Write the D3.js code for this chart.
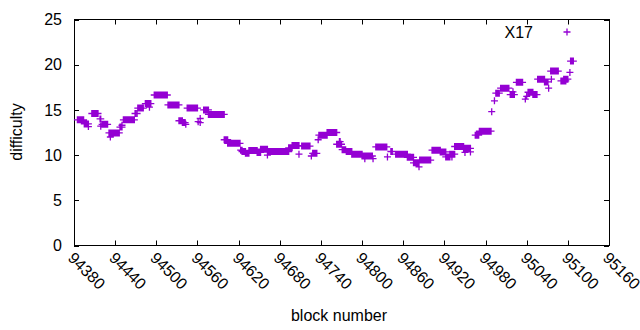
<!DOCTYPE html>
<html><head><meta charset="utf-8">
<script src="https://cdn.jsdelivr.net/npm/d3@7"></script>
<style>
body{margin:0;background:#fff;}
text{font-family:"Liberation Sans",Arial,sans-serif;font-size:16px;fill:#000;}
</style></head>
<body>
<svg id="c" width="640" height="330"></svg>
<script>
// Difficulty runs: blocks [runStart..runEnd] share difficulty runDiff
const runStart = [94385,94395,94401,94406,94418,94419,94421,94431,94433,94447,94450,94452,94469,94472,94473,94484,94490,94497,94517,94533,94538,94543,94545,94561,94564,94564,94569,94576,94599,94604,94623,94625,94630,94635,94647,94652,94662,94662,94672,94693,94698,94708,94712,94726,94728,94736,94737,94749,94763,94767,94771,94777,94785,94800,94804,94816,94820,94837,94842,94849,94866,94875,94883,94884,94902,94914,94922,94928,94931,94935,94948,94950,94958,94965,94971,94989,94993,94995,95002,95016,95020,95025,95038,95040,95042,95049,95056,95066,95072,95075,95076,95090,95094,95103,95104];
const runEnd   = [94394,94401,94401,94415,94419,94419,94429,94446,94433,94450,94450,94468,94470,94472,94481,94492,94490,94516,94533,94538,94542,94543,94560,94561,94564,94564,94576,94599,94604,94622,94625,94630,94635,94647,94652,94662,94672,94662,94693,94698,94708,94708,94724,94726,94734,94736,94749,94763,94770,94768,94776,94785,94800,94815,94804,94816,94836,94837,94844,94866,94875,94883,94883,94900,94914,94922,94928,94935,94931,94948,94958,94950,94958,94970,94988,94989,94993,95000,95014,95022,95020,95034,95038,95040,95049,95055,95066,95071,95072,95086,95076,95097,95100,95103,95108];
const runDiff  = [13.9,13.45,13.15,14.6,14.0,13.2,13.4,12.45,12.0,13.1,13.3,13.9,14.6,14.6,15.2,15.7,15.3,16.65,15.55,13.8,13.6,13.4,15.2,13.7,14.05,13.6,15.0,14.5,11.7,11.3,10.55,10.4,10.2,10.5,10.3,10.65,10.4,10.0,10.4,10.8,11.05,10.1,11.0,9.9,10.2,11.7,12.2,12.5,11.2,11.5,10.6,10.4,10.1,9.9,9.6,9.6,10.9,9.8,10.4,10.1,9.75,9.15,8.7,9.45,10.55,10.35,9.8,10.1,9.8,10.95,10.75,10.3,10.35,12.2,12.65,14.8,16.0,16.85,17.4,16.7,17.0,18.05,16.2,16.5,16.95,16.7,18.4,18.1,17.4,19.3,18.4,18.2,18.4,19.15,20.4];

const xTicks = [94380,94440,94500,94560,94620,94680,94740,94800,94860,94920,94980,95040,95100,95160];
const yTicks = [0,5,10,15,20,25];
const seriesName = "X17";

const points = [];
runStart.forEach((s,i)=>{ for(let b=s;b<=runEnd[i];b++) points.push([b,runDiff[i]]); });

const svg = d3.select("#c");
const L=74,R=609,T=19.5,B=245.5;
const x = d3.scaleLinear().domain([94380,95160]).range([L,R]);
const y = d3.scaleLinear().domain([0,25]).range([B,T]);
const col = "#9400d3";

// ticks (inward, mirrored)
const tk = svg.append("g").attr("stroke","#000").attr("stroke-width",1);
xTicks.forEach(v=>{
  const px=Math.round(x(v))+0.5;
  tk.append("line").attr("x1",px).attr("x2",px).attr("y1",B).attr("y2",B-5);
  tk.append("line").attr("x1",px).attr("x2",px).attr("y1",T).attr("y2",T+5);
});
yTicks.forEach(v=>{
  const py=Math.round(y(v))+0.5;
  tk.append("line").attr("x1",L).attr("x2",L+5).attr("y1",py).attr("y2",py);
  tk.append("line").attr("x1",R).attr("x2",R-5).attr("y1",py).attr("y2",py);
});
svg.append("rect").attr("x",L+0.5).attr("y",T).attr("width",R-L).attr("height",B-T)
  .attr("fill","none").attr("stroke","#000").attr("stroke-width",1);

// tick labels
svg.append("g").selectAll("text").data(yTicks).join("text")
  .attr("x",62).attr("y",d=>y(d)).attr("dy","0.35em").attr("text-anchor","end")
  .text(d=>d);
svg.append("g").selectAll("text").data(xTicks).join("text")
  .attr("transform",d=>`translate(${x(d)-3},${255}) rotate(45)`)
  .attr("text-anchor","start").attr("dy","0.35em").text(d=>d);

svg.append("text").attr("transform","translate(22,132) rotate(-90)").attr("text-anchor","middle")
  .text("difficulty");
svg.append("text").attr("x",339).attr("y",321).attr("text-anchor","middle")
  .text("block number");

// markers
const a=3.5;
const plus = d=>`M${x(d[0])-a},${y(d[1])}h${2*a}M${x(d[0])},${y(d[1])-a}v${2*a}`;
svg.append("path").attr("d",points.map(plus).join(""))
  .attr("stroke",col).attr("stroke-width",1.3).attr("fill","none");

// legend
svg.append("text").attr("x",533).attr("y",32).attr("dy","0.35em").attr("text-anchor","end")
  .text(seriesName);
svg.append("path").attr("d",`M${567-a},32h${2*a}M567,${32-a}v${2*a}`)
  .attr("stroke",col).attr("stroke-width",1.3);
</script>
</body></html>
